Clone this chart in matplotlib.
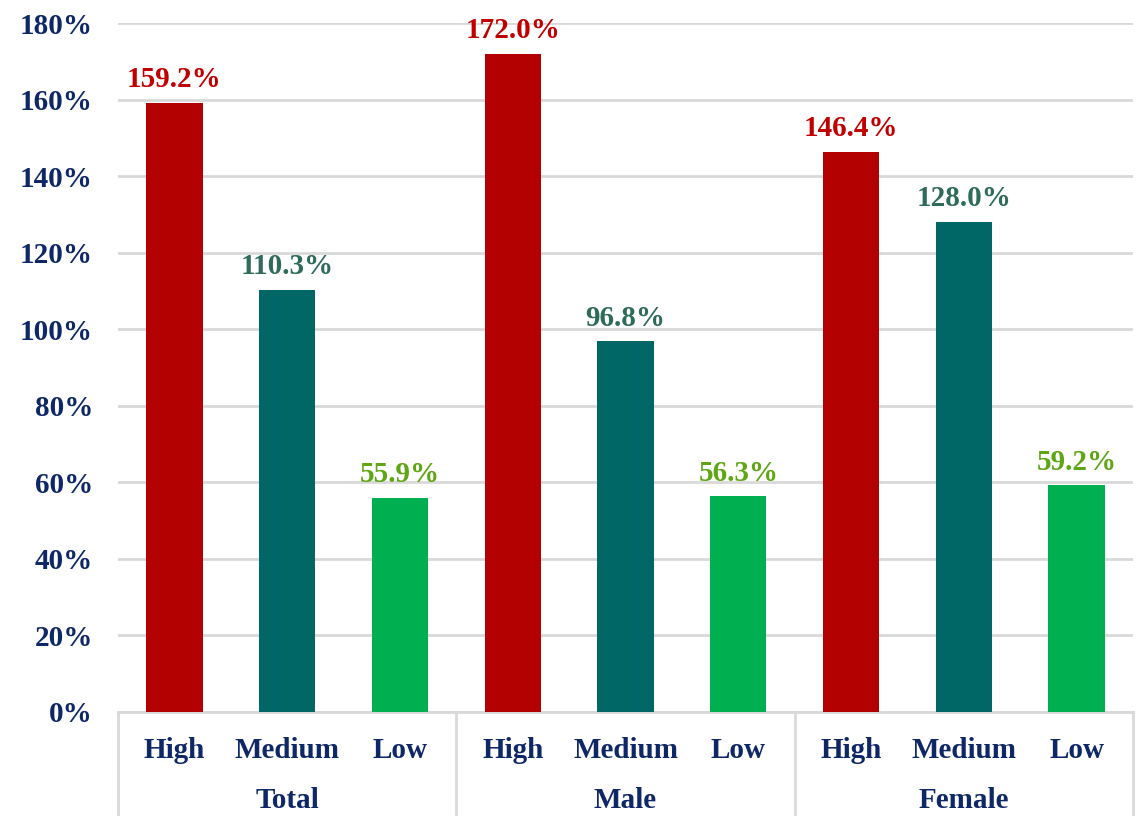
import matplotlib.pyplot as plt
import numpy as np

# 数据
groups = ['Total', 'Male', 'Female']
levels = ['High', 'Medium', 'Low']
values = [159.2, 110.3, 55.9,
          172.0, 96.8, 56.3,
          146.4, 128.0, 59.2]

bar_colors = {'High': '#B30000', 'Medium': '#006666', 'Low': '#00B050'}
label_colors = {'High': '#C00000', 'Medium': '#2E6B5A', 'Low': '#5EA614'}
navy = '#0E2766'

plt.rcParams['font.family'] = ['Liberation Serif', 'DejaVu Serif']
plt.rcParams['font.weight'] = 'bold'

fig = plt.figure(figsize=(11.41, 8.16), dpi=100)
ax = fig.add_axes([118 / 1141, 104 / 816, 1015 / 1141, 689 / 816])

n = len(values)
x = np.arange(n)
cats = levels * len(groups)
ax.bar(x, values, width=0.5, color=[bar_colors[c] for c in cats], zorder=3)

for xi, v, c in zip(x, values, cats):
    ax.text(xi, v + 2.5, f'{v:.1f}%', ha='center', va='bottom', fontsize=21,
            fontweight='bold', color=label_colors[c], zorder=4)

ax.set_xlim(-0.5, n - 0.5)
ax.set_ylim(0, 180)
ax.set_yticks(np.arange(0, 181, 20))
ax.set_yticklabels([f'{t}%' for t in range(0, 181, 20)])
ax.tick_params(axis='y', length=0, labelsize=21, labelcolor=navy, pad=18)
ax.grid(axis='y', color='#D9D9D9', linewidth=2, zorder=0)

for s in ['top', 'right', 'left']:
    ax.spines[s].set_visible(False)
ax.spines['bottom'].set_color('#D9D9D9')
ax.spines['bottom'].set_linewidth(2)

ax.set_xticks(x)
ax.set_xticklabels(cats)
ax.tick_params(axis='x', length=0, labelsize=21, labelcolor=navy, pad=18)

# 分组标签与分隔线
trans = ax.get_xaxis_transform()
for i, g in enumerate(groups):
    ax.text(i * 3 + 1, -0.128, g, transform=trans, ha='center', va='center',
            fontsize=21, fontweight='bold', color=navy)
for b in np.arange(-0.5, n, 3):
    ax.plot([b, b], [0, -0.16], transform=trans, color='#D9D9D9',
            linewidth=2, clip_on=False)

fig.savefig('out.png', dpi=100)
